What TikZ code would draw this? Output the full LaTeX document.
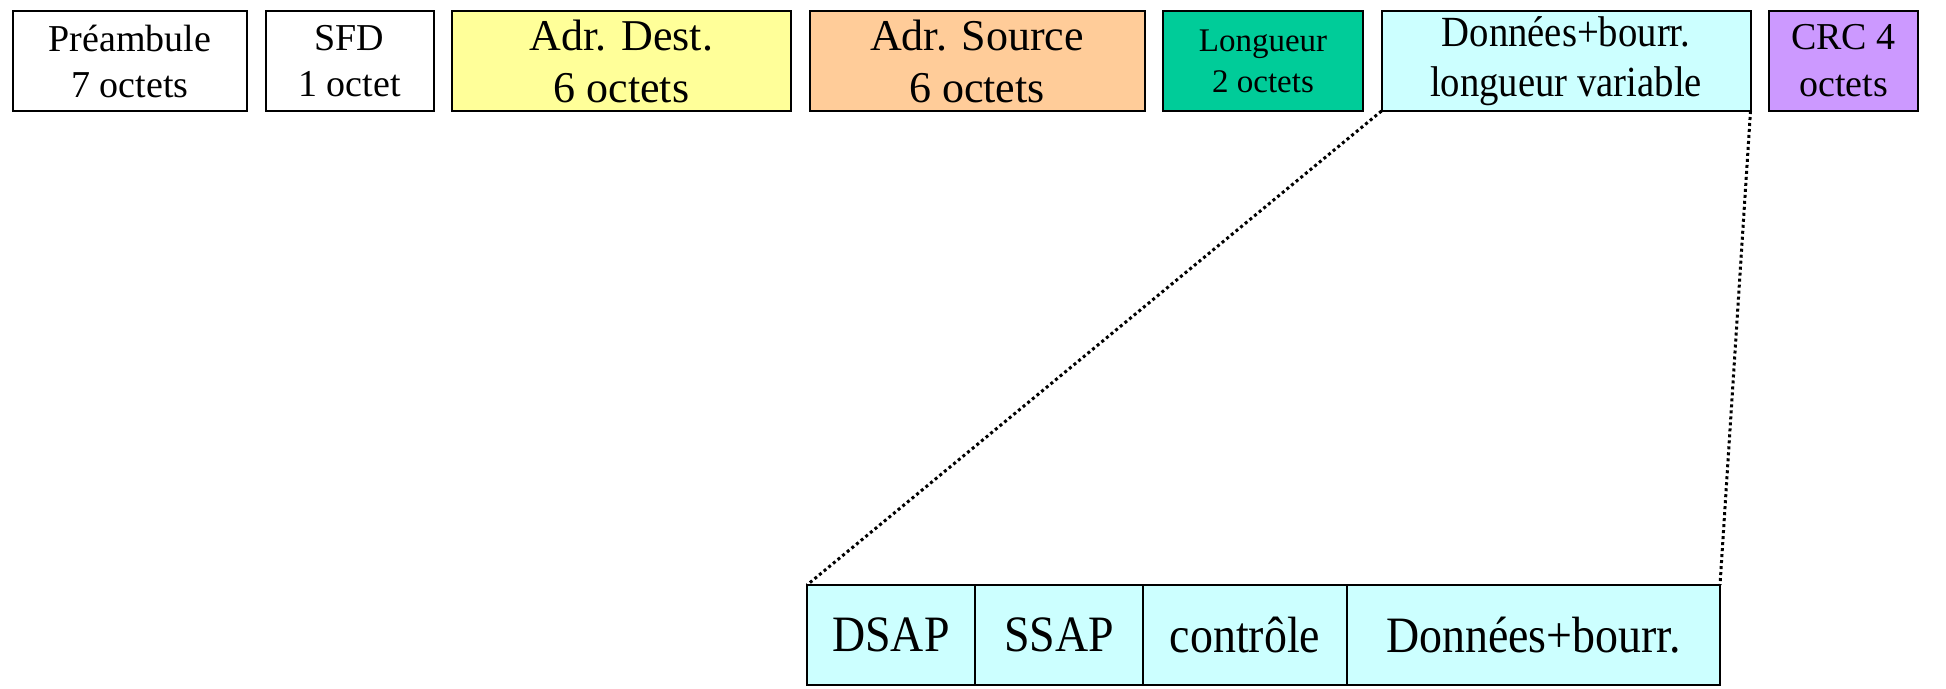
\documentclass[tikz,border=0pt]{standalone}
\usepackage{fontspec}
\setmainfont{Liberation Serif}
\newfontfamily\etroit[FakeStretch = 0.9]{Liberation Serif}
\usetikzlibrary{positioning}

\definecolor{jaunepale}{RGB}{255,255,153}
\definecolor{saumon}{RGB}{255,204,153}
\definecolor{vertmenthe}{RGB}{0,204,153}
\definecolor{cyanpale}{RGB}{204,255,255}
\definecolor{mauve}{RGB}{204,153,255}

\begin{document}
\begin{tikzpicture}[x = 1pt, y = -1pt,
		champ/.style = {draw = black, line width = 2pt, outer sep = 0pt, minimum height = 100pt, inner sep = 0pt, align = center, font = \fontsize{38}{46}\selectfont},
		grand/.style = {font = \fontsize{44}{52}\selectfont},
		llc/.style = {draw = black, line width = 1.8pt, outer sep = 0pt, fill = cyanpale, minimum height = 100pt, inner sep = 0pt, font = \etroit\fontsize{51}{51}\selectfont},
		zoom/.style = {black, line width = 3pt, dash pattern = on 3pt off 3pt},
		node distance = 18.5pt]
	\useasboundingbox (0, 0) rectangle (1946, 688);
	% trame Ethernet
	\node [champ, minimum width = 234pt] (pre) at (130, 61) {Préambule\\7 octets};
	\node [champ, minimum width = 168pt, right = of pre] (sfd) {SFD\\1 octet};
	\node [champ, grand, fill = jaunepale, minimum width = 339pt, right = of sfd] (dest) {Adr. Dest.\\6 octets};
	\node [champ, grand, fill = saumon, minimum width = 335pt, right = of dest] (src) {Adr. Source\\6 octets};
	\node [champ, fill = vertmenthe, minimum width = 200pt, right = of src, font = \fontsize{33}{41}\selectfont] (lg) {Longueur\\2 octets};
	\node [champ, fill = cyanpale, minimum width = 369pt, right = of lg, font = \etroit\fontsize{43}{50}\selectfont] (don) {Données+bourr.\\longueur variable};
	\node [champ, fill = mauve, minimum width = 149pt, right = of don, font = \fontsize{38}{47}\selectfont] (crc) {CRC 4\\octets};
	% trame LLC
	\node [llc, minimum width = 168pt] (dsap) at (891, 635) {DSAP};
	\node [llc, minimum width = 168pt, right = 0pt of dsap] (ssap) {SSAP};
	\node [llc, minimum width = 204pt, right = 0pt of ssap] (ctrl) {contrôle};
	\node [llc, minimum width = 373pt, right = 0pt of ctrl] (ldon) {Données+bourr.};
	\draw [zoom] (don.south west) -- (dsap.north west);
	\draw [zoom] (don.south east) -- (ldon.north east);
\end{tikzpicture}
\end{document}
